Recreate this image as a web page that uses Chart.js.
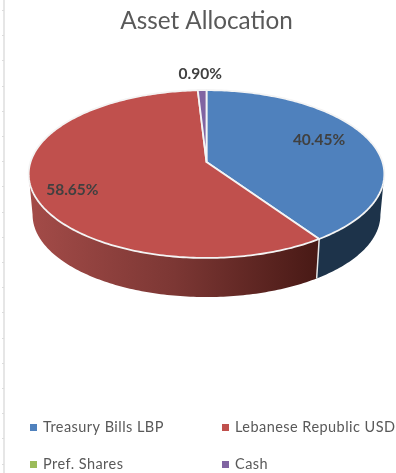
<!DOCTYPE html>
<html>
<head>
<meta charset="utf-8">
<title>Asset Allocation</title>
<script src="https://cdn.jsdelivr.net/npm/chart.js@4"></script>
<style>
  html, body { margin: 0; padding: 0; background: #fff; }
  canvas { display: block; }
</style>
</head>
<body>
<canvas id="myChart" width="396" height="473"></canvas>
<script>
const categories = ['Treasury Bills LBP', 'Lebanese Republic USD', 'Pref. Shares', 'Cash'];
const shares = [40.45, 58.65, 0, 0.90];
const sliceColors = ['#4f81bd', '#c0504d', '#9bbb59', '#8064a2'];

// tilt of the disc: how far the near edge comes forward, and how flat it looks
const PERSPECTIVE = 1 / 7;
const FLATTEN = 0.467;
const WALL_DROP = 41;
const WALL_SHRINK = 0.978;
// the side wall only shows on the near half, between these canvas angles
const WALL_FROM = Math.asin(PERSPECTIVE);
const WALL_TO = Math.PI - WALL_FROM;

const labelRadius = [0.72, 0.795, 0, 1.27];
const labelTurn = [-5.4, -5, 0, -0.3];

function project(arc, angle, r) {
    const u = r * Math.cos(angle);
    const v = r * Math.sin(angle);
    const d = 1 - v * PERSPECTIVE;
    return {
        x: arc.x + arc.outerRadius * u / d,
        y: arc.y + arc.outerRadius * FLATTEN * v / d
    };
}

function drop(arc, p) {
    return {
        x: arc.x + (p.x - arc.x) * WALL_SHRINK,
        y: arc.y + (p.y - arc.y) * 0.98 + WALL_DROP
    };
}

function rimPoints(arc, from, to) {
    const pts = [];
    const steps = Math.max(2, Math.ceil(Math.abs(to - from) * 60));
    for (let i = 0; i <= steps; i++) {
        pts.push(project(arc, from + (to - from) * i / steps, 1));
    }
    return pts;
}

function wallFill(ctx, arc, i) {
    if (i === 1) {
        const g = ctx.createLinearGradient(arc.x - 176, 0, arc.x + 112, 0);
        g.addColorStop(0, '#a34b48');
        g.addColorStop(0.5, '#7c3734');
        g.addColorStop(1, '#481915');
        return g;
    }
    return '#1d334a';
}

const pie3d = {
    id: 'pie3d',
    beforeDatasetsDraw(chart) {
        const ctx = chart.ctx;
        const arcs = chart.getDatasetMeta(0).data;

        // side wall first, the top face overlaps its upper edge
        arcs.forEach((arc, i) => {
            const from = Math.max(arc.startAngle, WALL_FROM);
            const to = Math.min(arc.endAngle, WALL_TO);
            if (to <= from) return;
            const top = rimPoints(arc, from, to);
            const bottom = top.map(p => drop(arc, p)).reverse();
            ctx.beginPath();
            top.concat(bottom).forEach((p, k) => k ? ctx.lineTo(p.x, p.y) : ctx.moveTo(p.x, p.y));
            ctx.closePath();
            ctx.fillStyle = wallFill(ctx, arc, i);
            ctx.fill();
        });

        // light seam where the two visible wall sections meet
        const seam = project(arcs[0], arcs[0].endAngle, 1);
        const seamEnd = drop(arcs[0], seam);
        ctx.beginPath();
        ctx.moveTo(seam.x, seam.y);
        ctx.lineTo(seamEnd.x, seamEnd.y);
        ctx.strokeStyle = '#e6e6e6';
        ctx.lineWidth = 1.5;
        ctx.stroke();

        arcs.forEach(arc => {
            if (arc.endAngle - arc.startAngle <= 0) return;
            const c = project(arc, 0, 0);
            ctx.beginPath();
            ctx.moveTo(c.x, c.y);
            rimPoints(arc, arc.startAngle, arc.endAngle).forEach(p => ctx.lineTo(p.x, p.y));
            ctx.closePath();
            ctx.fillStyle = arc.options.backgroundColor;
            ctx.fill();
            ctx.strokeStyle = arc.options.borderColor;
            ctx.lineWidth = arc.options.borderWidth;
            ctx.lineJoin = 'round';
            ctx.stroke();
        });

        // value labels
        ctx.font = 'bold 15.5px Lato';
        ctx.fillStyle = '#404040';
        ctx.textAlign = 'center';
        ctx.textBaseline = 'middle';
        arcs.forEach((arc, i) => {
            if (!shares[i]) return;
            const mid = (arc.startAngle + arc.endAngle) / 2 + labelTurn[i] * Math.PI / 180;
            const p = project(arc, mid, labelRadius[i]);
            ctx.fillText(shares[i].toFixed(2) + '%', p.x, p.y);
        });
        return false;
    }
};

// two column legend below the pie
const legendColumns = {
    id: 'legendColumns',
    afterDraw(chart) {
        const ctx = chart.ctx;
        ctx.font = '14.5px Lato';
        ctx.letterSpacing = '0.45px';
        ctx.textAlign = 'left';
        ctx.textBaseline = 'middle';
        categories.forEach((name, i) => {
            const x = i % 2 ? 222 : 30;
            const y = i < 2 ? 427 : 464;
            ctx.fillStyle = sliceColors[i];
            ctx.fillRect(x, y - 3, 7, 7);
            ctx.fillStyle = '#595959';
            ctx.fillText(name, x + 13, y);
        });
        ctx.letterSpacing = '0px';
    }
};

// worksheet edge showing down the left side
const sheetEdge = {
    id: 'sheetEdge',
    beforeDraw(chart) {
        const ctx = chart.ctx;
        ctx.fillStyle = '#e6e6e6';
        ctx.fillRect(3, 0, 2, chart.height);
        ctx.fillStyle = '#dcdcdc';
        for (let y = 10; y < chart.height; y += 25.2) {
            ctx.fillRect(2, Math.round(y), 2, 1);
        }
    }
};

new Chart(document.getElementById('myChart').getContext('2d'), {
    type: 'pie',
    data: {
        labels: categories,
        datasets: [{
            data: shares,
            backgroundColor: sliceColors,
            borderColor: '#f4f4f4',
            borderWidth: 1.8
        }]
    },
    options: {
        responsive: false,
        animation: false,
        radius: 176,
        layout: { padding: { left: 17, right: 0, top: 0, bottom: 189 } },
        plugins: {
            legend: { display: false },
            tooltip: { enabled: false },
            title: {
                display: true,
                text: 'Asset Allocation',
                color: '#595959',
                font: { family: 'Lato', size: 24.3, weight: 'normal' },
                padding: { top: 7, bottom: 4 }
            }
        }
    },
    plugins: [sheetEdge, pie3d, legendColumns]
});
</script>
</body>
</html>
